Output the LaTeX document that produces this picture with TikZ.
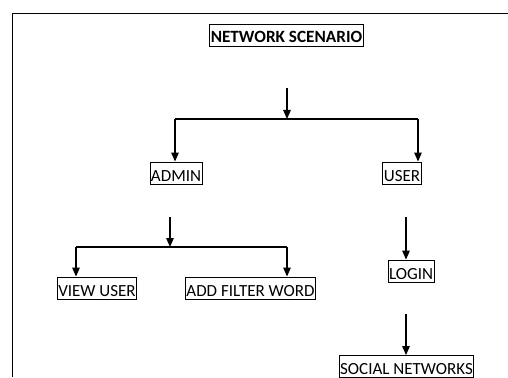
\documentclass[tikz,border=0pt]{standalone}
\usepackage{fontspec}
\setmainfont{Carlito}
\usetikzlibrary{arrows.meta}
\begin{document}
\begin{tikzpicture}[x=1pt,y=-1pt,
  box/.style={draw,line width=0.9pt,inner xsep=1pt,inner ysep=0pt,
    minimum height=22pt,text height=18.5pt,text depth=2.5pt,font=\fontsize{17}{19}\selectfont},
  titlebox/.style={box,font=\bfseries\fontsize{17.2}{19}\selectfont},
  flow/.style={line width=1.3pt,-{Triangle[length=9pt,width=7.5pt]}},
  link/.style={line width=1.3pt}]
\useasboundingbox (0,0) rectangle (508,377);
\clip (0,0) rectangle (508,377);
% page frame
\draw[line width=0.8pt] (12,377) -- (12,13) -- (510,13);

% nodes
\node[titlebox] (title) at (286.5,35) {NETWORK SCENARIO};
\node[box] (admin) at (176,173) {ADMIN};
\node[box] (user) at (402,173) {USER};
\node[box] (view) at (97,288) {VIEW USER};
\node[box] (filter) at (250.5,288) {ADD FILTER WORD};
\node[box] (login) at (411,271) {LOGIN};
\node[box] (social) at (406.5,366.5) {SOCIAL NETWORKS};

% first split
\coordinate (s1) at (287,88);
\coordinate (b1) at (287,119);
\coordinate (b1l) at (175,119);
\coordinate (b1r) at (418,119);
\draw[flow] (s1) -- (b1);
\draw[link] (b1l) -- (b1r);
\draw[flow] (b1l) -- (b1l |- admin.north);
\draw[flow] (b1r) -- (b1r |- user.north);

% admin split
\coordinate (s2) at (170,217);
\coordinate (b2) at (170,247);
\coordinate (b2l) at (76,247);
\coordinate (b2r) at (287,247);
\draw[flow] (s2) -- (b2);
\draw[link] (b2l) -- (b2r);
\draw[flow] (b2l) -- (b2l |- view.north);
\draw[flow] (b2r) -- (b2r |- filter.north);

% user chain
\coordinate (s3) at (406,217);
\draw[flow] (s3) -- (s3 |- login.north);
\coordinate (s4) at (406,314);
\draw[flow] (s4) -- (s4 |- social.north);
\end{tikzpicture}
\end{document}
